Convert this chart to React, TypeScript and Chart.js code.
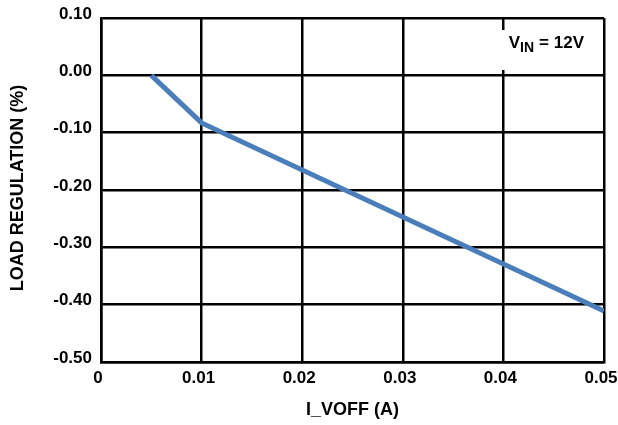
import React, { useEffect, useRef } from "react";
import { Chart, registerables } from "chart.js";

Chart.register(...registerables);

const xValues = [0.005, 0.01, 0.05];
const loadRegulation = [0.0, -0.083, -0.411];
const xTickLabels = ["0", "0.01", "0.02", "0.03", "0.04", "0.05"];
const yTickLabels = ["-0.50", "-0.40", "-0.30", "-0.20", "-0.10", "0.00", "0.10"];
const xTitle = "I_VOFF (A)";
const yTitle = "LOAD REGULATION (%)";

const FONT = "'Liberation Sans', Arial, Helvetica, sans-serif";

const textPlugin = {
  id: "customText",
  afterDraw(chart: any) {
    const { ctx, chartArea } = chart;
    ctx.save();
    ctx.fillStyle = "#000";
    // x title
    ctx.font = `bold 18px ${FONT}`;
    ctx.textAlign = "center";
    ctx.textBaseline = "middle";
    ctx.fillText(xTitle, (chartArea.left + chartArea.right) / 2, chartArea.bottom + 48);
    // y title
    ctx.save();
    ctx.translate(18, (chartArea.top + chartArea.bottom) / 2 - 2);
    ctx.rotate(-Math.PI / 2);
    ctx.fillText(yTitle, 0, 0);
    ctx.restore();
    // annotation
    ctx.fillStyle = "#fff";
    ctx.fillRect(chartArea.right - 110, chartArea.top + 12, 106, 40);
    ctx.fillStyle = "#000";
    ctx.textBaseline = "alphabetic";
    const base = chartArea.top + 30;
    const big = `bold 17px ${FONT}`;
    const small = `bold 14px ${FONT}`;
    const rest = "= 12V";
    ctx.font = big;
    ctx.textAlign = "right";
    const restRight = chartArea.right - 20;
    ctx.fillText(rest, restRight, base);
    const restLeft = restRight - ctx.measureText(rest).width;
    ctx.font = small;
    const inRight = restLeft - 5;
    ctx.fillText("IN", inRight, base + 4);
    const wIN = ctx.measureText("IN").width;
    ctx.font = big;
    ctx.fillText("V", inRight - wIN, base);
    ctx.restore();
  },
};

export default function App() {
  const ref = useRef<HTMLCanvasElement | null>(null);
  useEffect(() => {
    document.body.style.margin = "0";
    if (!ref.current) return;
    const chart = new Chart(ref.current, {
      type: "line",
      data: {
        datasets: [
          {
            data: xValues.map((x, i) => ({ x, y: loadRegulation[i] })),
            borderColor: "#4a7ebb",
            borderWidth: 5,
            pointRadius: 0,
            tension: 0,
            fill: false,
          },
        ],
      },
      options: {
        animation: false,
        responsive: false,
        layout: { padding: { top: 18, right: 14, bottom: 0, left: 0 } },
        plugins: { legend: { display: false }, tooltip: { enabled: false } },
        scales: {
          x: {
            type: "linear",
            min: 0,
            max: 0.05,
            ticks: {
              stepSize: 0.01,
              padding: 6,
              labelOffset: -3,
              color: "#000",
              font: { family: FONT, size: 17, weight: "bold" },
              maxRotation: 0,
              callback: (_v: any, i: number) => xTickLabels[i],
            },
            grid: { color: "#000", lineWidth: 2.5, drawTicks: false },
            border: { display: true, color: "#000", width: 2.5 },
            afterFit: (scale: any) => {
              scale.height = 63;
              scale.paddingLeft = 0;
              scale.paddingRight = 0;
            },
          },
          y: {
            min: -0.5,
            max: 0.1,
            ticks: {
              stepSize: 0.1,
              padding: 9,
              labelOffset: -4,
              color: "#000",
              font: { family: FONT, size: 17, weight: "bold" },
              callback: (_v: any, i: number) => yTickLabels[i],
            },
            grid: { color: "#000", lineWidth: 2.5, drawTicks: false },
            border: { display: true, color: "#000", width: 2.5 },
            afterFit: (scale: any) => {
              scale.width = 101;
              scale.paddingTop = 0;
              scale.paddingBottom = 0;
            },
          },
        },
      },
      plugins: [textPlugin],
    });
    return () => chart.destroy();
  }, []);
  return <canvas ref={ref} width={618} height={425} style={{ display: "block" }} />;
}
